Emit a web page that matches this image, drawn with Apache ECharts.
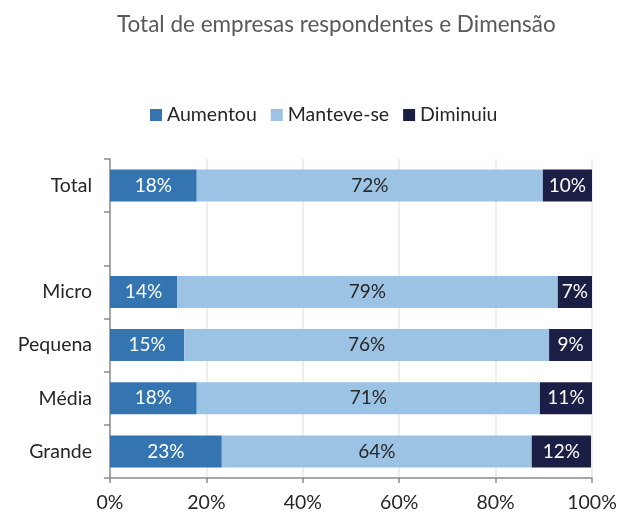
<!DOCTYPE html>
<html>
<head>
<meta charset="utf-8">
<script src="https://cdn.jsdelivr.net/npm/echarts@6/dist/echarts.min.js"></script>
<style>
  html, body { margin: 0; padding: 0; background: #fff; }
  #Chart { width: 617px; height: 513px; }
</style>
</head>
<body>
<div id="Chart"></div>
<script>
// dados (top to bottom)
var categorias = ['Total', '', 'Micro', 'Pequena', 'Média', 'Grande'];
var aumentou = [18.0, null, 13.9, 15.4, 18.0, 23.2];
var manteve = [71.8, null, 79.0, 75.7, 71.2, 64.3];
var diminuiu = [10.2, null, 7.1, 8.9, 10.8, 12.3];

var fonte = 'Lato, "Open Sans", sans-serif';

function rotulo(cor) {
    return {
        show: true,
        color: cor,
        fontFamily: fonte,
        fontSize: 19,
        formatter: function (p) {
            return Math.round(p.value) + '%';
        }
    };
}

var myChart = echarts.init(document.getElementById('Chart'));
var option = {
    animation: false,
    title: {
        text: 'Total de empresas respondentes e Dimensão',
        left: 112,
        top: 8,
        textStyle: {
            color: '#595959',
            fontSize: 22.5,
            fontWeight: 'normal',
            fontFamily: fonte
        }
    },
    legend: {
        top: 100,
        left: 145,
        itemWidth: 12,
        itemHeight: 12,
        itemGap: 14,
        icon: 'rect',
        textStyle: {
            color: '#262626',
            fontSize: 19.5,
            fontFamily: fonte
        },
        data: ['Aumentou', 'Manteve-se', 'Diminuiu']
    },
    grid: {
        left: 110,
        right: 25,
        top: 159,
        bottom: 35,
        containLabel: false,
        outerBoundsMode: 'none'
    },
    xAxis: {
        type: 'value',
        min: 0,
        max: 100,
        interval: 20,
        axisLabel: {
            formatter: '{value}%',
            color: '#262626',
            fontSize: 19.5,
            fontFamily: fonte,
            margin: 15
        },
        axisLine: {
            show: true,
            lineStyle: { color: '#8c8c8c', width: 1.5 }
        },
        axisTick: {
            show: true,
            length: 5,
            lineStyle: { color: '#8c8c8c', width: 1.5 }
        },
        splitLine: {
            show: true,
            lineStyle: { color: '#e8e8e8', width: 1.5 }
        }
    },
    yAxis: {
        type: 'category',
        inverse: true,
        data: categorias,
        axisLabel: {
            color: '#262626',
            fontSize: 19.5,
            fontFamily: fonte,
            margin: 18
        },
        axisLine: {
            show: true,
            lineStyle: { color: '#8c8c8c', width: 1.5 }
        },
        axisTick: {
            show: true,
            length: 6,
            inside: false,
            lineStyle: { color: '#8c8c8c', width: 1.5 }
        }
    },
    series: [
        {
            name: 'Aumentou',
            type: 'bar',
            stack: 'total',
            barWidth: 32,
            data: aumentou,
            itemStyle: { color: '#3475b1' },
            label: rotulo('#ffffff')
        },
        {
            name: 'Manteve-se',
            type: 'bar',
            stack: 'total',
            barWidth: 32,
            data: manteve,
            itemStyle: { color: '#9dc3e4' },
            label: rotulo('#262626')
        },
        {
            name: 'Diminuiu',
            type: 'bar',
            stack: 'total',
            barWidth: 32,
            data: diminuiu,
            itemStyle: { color: '#1c1f45' },
            label: rotulo('#ffffff')
        }
    ]
};
myChart.setOption(option);
window.addEventListener('resize', function () {
    myChart.resize();
});
</script>
</body>
</html>
